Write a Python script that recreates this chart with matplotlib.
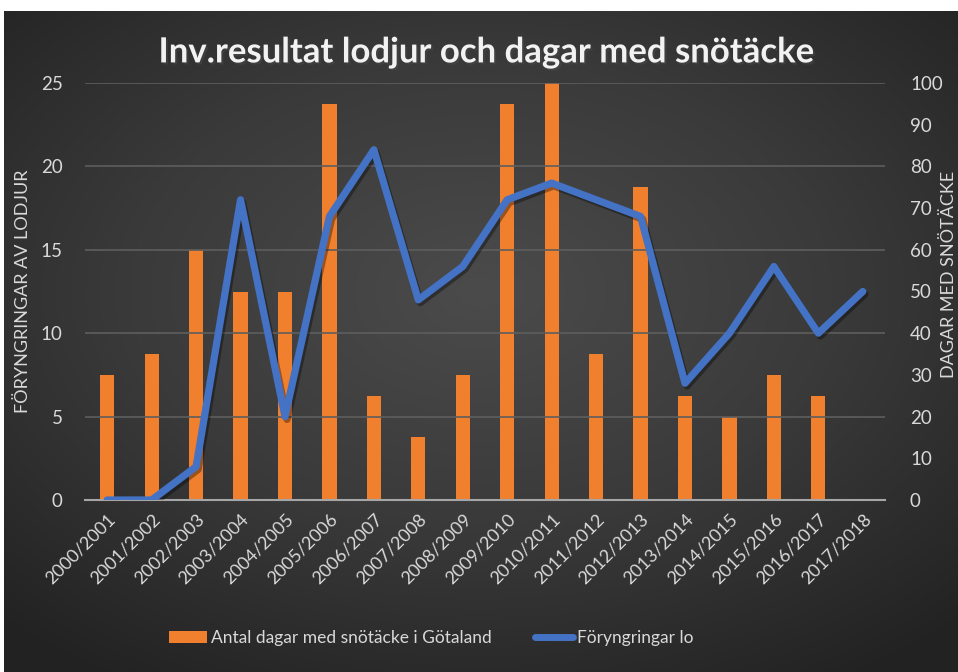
import numpy as np
import matplotlib
matplotlib.use("Agg")
import matplotlib.pyplot as plt
import matplotlib.patheffects as pe
from matplotlib.patches import Patch
from matplotlib.lines import Line2D

plt.rcParams['font.family'] = ['Lato', 'DejaVu Sans']

# data
seasons = ["2000/2001", "2001/2002", "2002/2003", "2003/2004", "2004/2005", "2005/2006",
           "2006/2007", "2007/2008", "2008/2009", "2009/2010", "2010/2011", "2011/2012",
           "2012/2013", "2013/2014", "2014/2015", "2015/2016", "2016/2017", "2017/2018"]
snow_days = [30, 35, 60, 50, 50, 95, 25, 15, 30, 95, 100, 35, 75, 25, 20, 30, 25, 0]
foryngringar = [0, 0, 2, 18, 5, 17, 21, 12, 14, 18, 19, 18, 17, 7, 10, 14, 10, 12.5]

left_ticks = [0, 5, 10, 15, 20, 25]
right_ticks = [0, 10, 20, 30, 40, 50, 60, 70, 80, 90, 100]

txt = '#d9d9d9'
orange = '#F07F2E'
blue = '#4472C4'

fig = plt.figure(figsize=(9.58, 6.72), dpi=100)
fig.patch.set_facecolor('white')

# dark radial background like the excel style
bg = fig.add_axes([4 / 958, 0, 1 - 4 / 958, 1 - 11 / 672], zorder=-5)
yy, xx = np.mgrid[-1:1:300j, -1:1:400j]
r = np.sqrt((xx * 0.95) ** 2 + ((yy + 0.15) * 1.0) ** 2)
bg.imshow(np.clip(r, 0, 1.4), cmap=matplotlib.colors.LinearSegmentedColormap.from_list(
    'bg', ['#4b4b4b', '#3a3a3a', '#222222']), aspect='auto', extent=[0, 1, 0, 1])
bg.axis('off')

ax = fig.add_axes([85 / 958, 172 / 672, 800 / 958, 417 / 672])
ax2 = ax.twinx()
x = np.arange(len(seasons))

ax2.bar(x, snow_days, width=0.32, color=orange, zorder=2)
ax.plot(x, foryngringar, color=blue, lw=5.2, solid_joinstyle='round', solid_capstyle='round',
        zorder=3,
        path_effects=[pe.SimpleLineShadow(offset=(1.5, -2), shadow_color='black', alpha=0.35),
                      pe.Normal()])

ax.set_zorder(ax2.get_zorder() + 1)
ax.patch.set_visible(False)
ax2.patch.set_visible(False)

ax.set_xlim(-0.5, len(seasons) - 0.5)
ax.set_ylim(0, 25)
ax2.set_ylim(0, 100)
ax.set_yticks(left_ticks)
ax2.set_yticks(right_ticks)
ax.grid(axis='y', color='#5e5e5e', lw=1.2)
ax.set_axisbelow(True)

for a in (ax, ax2):
    for s in a.spines.values():
        s.set_visible(False)
    a.tick_params(length=0, colors=txt, labelsize=13.5)
ax.spines['bottom'].set_visible(True)
ax.spines['bottom'].set_color('#a6a6a6')
ax.spines['bottom'].set_linewidth(1.5)
ax.tick_params(axis='y', pad=16)
ax2.tick_params(axis='y', pad=18)

ax.set_xticks(x)
ax.set_xticklabels(seasons, rotation=45, ha='right', rotation_mode='anchor', fontsize=13)
ax.tick_params(axis='x', pad=8)

ax.set_ylabel('FÖRYNGRINGAR AV LODJUR', color=txt, fontsize=13)
ax.yaxis.set_label_coords(-0.068, 0.5)
ax2.set_ylabel('DAGAR MED SNÖTÄCKE', color=txt, fontsize=13)
ax2.yaxis.set_label_coords(1.07, 0.54)

fig.text(0.508, 0.922, 'Inv.resultat lodjur och dagar med snötäcke', color='#f2f2f2',
         fontsize=25, fontweight='bold', ha='center', va='center',
         path_effects=[pe.withSimplePatchShadow(offset=(1.5, -1.5), alpha=0.5)])

handles = [Patch(facecolor=orange), Line2D([0], [0], color=blue, lw=5, solid_capstyle='round')]
leg = fig.legend(handles, ['Antal dagar med snötäcke i Götaland', 'Föryngringar lo'],
                 loc='center', bbox_to_anchor=(0.45, 0.05), ncol=2, frameon=False,
                 fontsize=12.5, labelcolor=txt, handlelength=2.2, handletextpad=0.2,
                 columnspacing=2.5)

fig.savefig('out.png', dpi=100, facecolor=fig.get_facecolor())
